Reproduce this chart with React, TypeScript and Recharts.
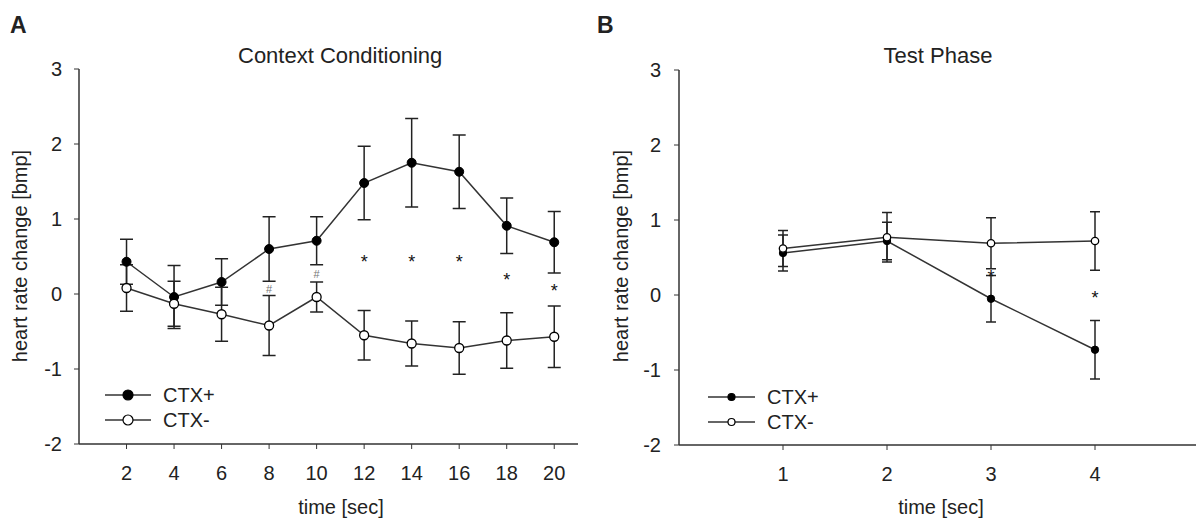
import React from "react";
import {
  ComposedChart, Line, Scatter, XAxis, YAxis, ErrorBar,
} from "recharts";

// Panel A – context conditioning (heart rate change, bmp)
const timeA = [2, 4, 6, 8, 10, 12, 14, 16, 18, 20];
const ctxPlusA = [0.43, -0.04, 0.16, 0.6, 0.71, 1.48, 1.75, 1.63, 0.91, 0.69];
const ctxPlusErrA = [0.3, 0.42, 0.31, 0.43, 0.32, 0.49, 0.59, 0.49, 0.37, 0.41];
const ctxMinusA = [0.08, -0.13, -0.27, -0.42, -0.04, -0.55, -0.66, -0.72, -0.62, -0.57];
const ctxMinusErrA = [0.31, 0.3, 0.36, 0.4, 0.2, 0.33, 0.3, 0.35, 0.37, 0.41];
const starTimesA = [12, 14, 16, 18, 20];
const starYA = [0.49, 0.49, 0.49, 0.25, 0.1];
const hashTimesA = [8, 10];
const hashYA = [0.07, 0.26];

// Panel B – test phase
const timeB = [1, 2, 3, 4];
const ctxPlusB = [0.56, 0.72, -0.05, -0.73];
const ctxPlusErrB = [0.24, 0.25, 0.31, 0.39];
const ctxMinusB = [0.62, 0.77, 0.69, 0.72];
const ctxMinusErrB = [0.24, 0.33, 0.34, 0.39];
const starTimesB = [3, 4];
const starYB = [0.3, 0.02];

const yTicks = [-2, -1, 0, 1, 2, 3];
const FONT = '"Liberation Sans", Arial, sans-serif';
const INK = "#222";

const toRows = (ts: number[], ys: number[], errs?: number[]) =>
  ts.map((t, i) => ({ t, y: ys[i], err: errs ? errs[i] : 0 }));

function markShape(ch: string, size: number, color: string, dy: string) {
  return (p: any) => (
    <text x={p.cx} y={p.cy} dy={dy} textAnchor="middle" fontSize={size}
      fontFamily={FONT} fill={color}>{ch}</text>
  );
}

interface PanelProps {
  left: number; width: number; yAxisW: number; right: number; top: number;
  domain: [number, number]; ticks: number[];
  plus: any[]; minus: any[]; stars: any[]; hashes?: any[];
  r: number; cap: number; tickMargin: number;
}

function Panel(p: PanelProps) {
  const axisStyle = { stroke: "#333", strokeWidth: 1.5 };
  return (
    <div style={{ position: "absolute", left: p.left, top: 0 }}>
      <ComposedChart width={p.width} height={520}
        margin={{ top: p.top, right: p.right, bottom: 520 - p.top - 375 - 40, left: 0 }}>
        <XAxis dataKey="t" type="number" domain={p.domain} ticks={p.ticks}
          height={40} axisLine={axisStyle} tickLine={{ stroke: "#333" }} tickSize={5}
          tickMargin={17} tick={{ fontSize: 20, fill: INK, fontFamily: FONT }} />
        <YAxis dataKey="y" type="number" domain={[-2, 3]} ticks={yTicks} width={p.yAxisW}
          axisLine={axisStyle} tickLine={{ stroke: "#333" }} tickSize={5}
          tickMargin={p.tickMargin} tick={{ fontSize: 20, fill: INK, fontFamily: FONT }} />
        <Line data={p.plus} dataKey="y" type="linear" stroke="#333" strokeWidth={1.5}
          dot={{ r: p.r, fill: "#000", stroke: "#000", strokeWidth: 1 }} activeDot={false}
          isAnimationActive={false}>
          <ErrorBar dataKey="err" width={p.cap} stroke={INK} strokeWidth={1.5} direction="y" />
        </Line>
        <Line data={p.minus} dataKey="y" type="linear" stroke="#333" strokeWidth={1.5}
          dot={{ r: p.r, fill: "#fff", stroke: "#000", strokeWidth: 1.3 }} activeDot={false}
          isAnimationActive={false}>
          <ErrorBar dataKey="err" width={p.cap} stroke={INK} strokeWidth={1.5} direction="y" />
        </Line>
        <Scatter data={p.stars} dataKey="y" isAnimationActive={false}
          shape={markShape("*", 18, "#111", "0.58em")} />
        {p.hashes && (
          <Scatter data={p.hashes} dataKey="y" isAnimationActive={false}
            shape={markShape("#", 11, "#777", "0.35em")} />
        )}
      </ComposedChart>
    </div>
  );
}

function LegendRow({ x, y, r, filled, label, lineW }: { x: number; y: number; r: number; filled: boolean; label: string; lineW: number }) {
  return (
    <div style={{ position: "absolute", left: x, top: y - 12, height: 24, display: "flex", alignItems: "center" }}>
      <svg width={lineW} height={24}>
        <line x1={0} y1={12} x2={lineW} y2={12} stroke="#333" strokeWidth={1.5} />
        <circle cx={lineW / 2} cy={12} r={r} fill={filled ? "#000" : "#fff"} stroke="#000" strokeWidth={1.2} />
      </svg>
      <span style={{ marginLeft: 12, fontSize: 20, fontFamily: FONT, color: INK, lineHeight: 1 }}>{label}</span>
    </div>
  );
}

const textBase: React.CSSProperties = {
  position: "absolute", fontFamily: FONT, color: INK, lineHeight: 1, whiteSpace: "nowrap",
};

export default function App() {
  return (
    <div style={{ position: "absolute", left: 0, top: 0, width: 1196, height: 520, overflow: "hidden", background: "#fff" }}>
      <Panel left={0} width={600} yAxisW={79} right={22} top={69} domain={[0, 21]} ticks={timeA}
        plus={toRows(timeA, ctxPlusA, ctxPlusErrA)} minus={toRows(timeA, ctxMinusA, ctxMinusErrA)}
        stars={toRows(starTimesA, starYA)} hashes={toRows(hashTimesA, hashYA)}
        r={4.5} cap={6.5} tickMargin={12} />
      <Panel left={596} width={604} yAxisW={83} right={1} top={70} domain={[0, 5]} ticks={timeB}
        plus={toRows(timeB, ctxPlusB, ctxPlusErrB)} minus={toRows(timeB, ctxMinusB, ctxMinusErrB)}
        stars={toRows(starTimesB, starYB)}
        r={3.7} cap={5} tickMargin={13} />

      {/* panel letters */}
      <div style={{ ...textBase, left: 10, top: 14, fontSize: 23, fontWeight: 900 }}>A</div>
      <div style={{ ...textBase, left: 597, top: 14, fontSize: 23, fontWeight: 900 }}>B</div>

      {/* titles */}
      <div style={{ ...textBase, left: 238, width: 200, top: 45, fontSize: 22, textAlign: "center" }}>Context Conditioning</div>
      <div style={{ ...textBase, left: 838, width: 200, top: 45, fontSize: 22, textAlign: "center" }}>Test Phase</div>

      {/* axis titles */}
      <div style={{ ...textBase, left: 20, top: 256, fontSize: 20, transform: "translate(-50%,-50%) rotate(-90deg)" }}>heart rate change [bmp]</div>
      <div style={{ ...textBase, left: 621, top: 256, fontSize: 20, transform: "translate(-50%,-50%) rotate(-90deg)" }}>heart rate change [bmp]</div>
      <div style={{ ...textBase, left: 241, width: 200, top: 497, fontSize: 20, textAlign: "center" }}>time [sec]</div>
      <div style={{ ...textBase, left: 841, width: 200, top: 497, fontSize: 20, textAlign: "center" }}>time [sec]</div>

      {/* legends */}
      <LegendRow x={105} y={395} r={5} filled label="CTX+" lineW={46} />
      <LegendRow x={105} y={420} r={5} filled={false} label="CTX-" lineW={46} />
      <LegendRow x={708} y={397} r={3.5} filled label="CTX+" lineW={47} />
      <LegendRow x={708} y={422} r={3.5} filled={false} label="CTX-" lineW={47} />
    </div>
  );
}
